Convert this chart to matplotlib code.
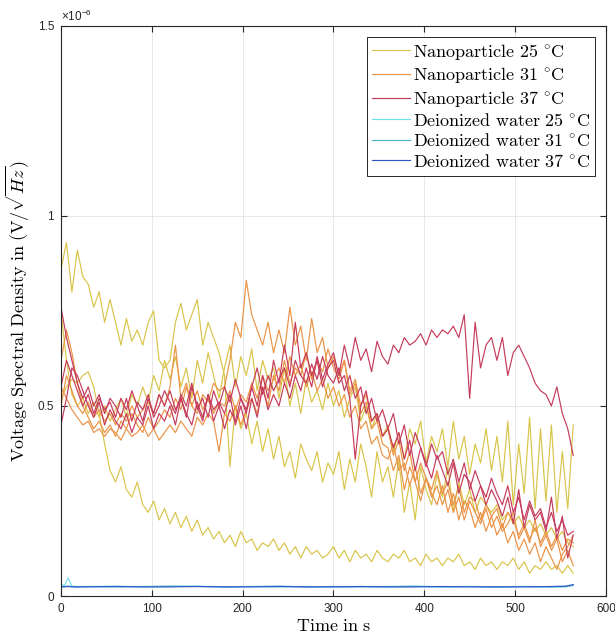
import numpy as np
import matplotlib.pyplot as plt

plt.rcParams['mathtext.fontset'] = 'cm'
plt.rcParams['font.family'] = 'Liberation Sans'

# sampling times in s, readings in units of 1e-8 V/sqrt(Hz)
time_s = np.arange(0, 565, 6)

np25_a = [86, 93, 80, 91, 84, 82, 76, 80, 72, 78,
          72, 66, 73, 67, 70, 66, 72, 75, 62, 60,
          62, 72, 77, 70, 74, 78, 66, 72, 68, 64,
          58, 34, 50, 44, 48, 40, 46, 38, 44, 36,
          42, 34, 38, 31, 40, 36, 33, 38, 30, 35,
          32, 38, 28, 36, 30, 40, 34, 26, 38, 30,
          34, 26, 36, 22, 30, 20, 34, 28, 24, 32,
          26, 34, 22, 30, 24, 28, 22, 26, 24, 22,
          24, 20, 22, 19, 21, 18, 20, 17, 19, 16,
          18, 15, 17, 14, 13]
np25_b = [52, 55, 57, 56, 58, 59, 55, 48, 40, 33,
          30, 34, 28, 26, 30, 24, 22, 25, 20, 23,
          19, 22, 18, 21, 17, 20, 16, 18, 15, 17,
          14, 16, 13, 17, 14, 15, 12, 14, 13, 15,
          12, 14, 11, 13, 10, 13, 11, 12, 10, 11,
          13, 10, 12, 9, 12, 10, 11, 9, 12, 10,
          9, 11, 10, 12, 9, 10, 8, 11, 9, 10,
          8, 10, 9, 11, 8, 9, 7, 10, 8, 9,
          7, 9, 8, 10, 7, 9, 6, 8, 7, 9,
          7, 8, 6, 8, 6]
np25_c = [75, 62, 53, 50, 52, 48, 51, 47, 50, 46,
          49, 52, 47, 53, 50, 55, 51, 58, 54, 62,
          57, 63, 55, 60, 52, 62, 56, 64, 58, 52,
          60, 66, 55, 63, 58, 65, 54, 62, 57, 60,
          52, 60, 50, 56, 48, 57, 51, 54, 49, 56,
          50, 54, 47, 52, 55, 46, 50, 44, 48, 42,
          45, 38, 43, 36, 44, 40, 46, 35, 42, 38,
          44, 34, 46, 36, 42, 32, 40, 35, 44, 33,
          42, 30, 46, 24, 40, 27, 47, 23, 44, 25,
          45, 22, 38, 23, 45]

np31_a = [62, 70, 64, 56, 50, 47, 44, 46, 43, 45,
          42, 46, 44, 48, 45, 43, 47, 44, 46, 49,
          47, 52, 49, 55, 50, 48, 53, 51, 56, 54,
          55, 62, 72, 68, 83, 74, 70, 66, 72, 64,
          70, 64, 76, 66, 71, 62, 73, 64, 68, 60,
          63, 58, 62, 54, 57, 50, 53, 46, 48, 42,
          44, 37, 41, 33, 38, 30, 35, 31, 28, 33,
          27, 30, 24, 29, 22, 26, 25, 20, 24, 21,
          23, 18, 22, 20, 16, 19, 15, 18, 14, 17,
          13, 16, 12, 15, 14]
np31_b = [55, 52, 49, 47, 45, 46, 43, 44, 42, 44,
          43, 41, 44, 42, 43, 45, 42, 44, 41, 43,
          45, 43, 46, 44, 42, 47, 45, 48, 46, 38,
          48, 46, 50, 45, 49, 52, 48, 55, 50, 58,
          54, 62, 56, 60, 58, 64, 57, 62, 59, 65,
          60, 57, 62, 53, 56, 48, 51, 44, 46, 40,
          39, 33, 37, 28, 34, 30, 25, 31, 27, 24,
          29, 22, 27, 20, 25, 23, 18, 22, 17, 21,
          16, 19, 14, 17, 12, 15, 11, 14, 9, 13,
          10, 7, 11, 13, 16]
np31_c = [50, 58, 54, 50, 48, 51, 47, 49, 46, 48,
          45, 48, 46, 50, 47, 49, 51, 48, 53, 50,
          55, 66, 52, 56, 50, 54, 49, 52, 48, 51,
          50, 54, 49, 53, 51, 56, 52, 58, 54, 57,
          60, 56, 63, 58, 61, 55, 59, 54, 57, 52,
          55, 50, 53, 47, 50, 44, 46, 40, 42, 37,
          36, 40, 33, 35, 29, 34, 27, 31, 26, 29,
          24, 28, 22, 26, 20, 25, 22, 19, 23, 18,
          21, 17, 19, 22, 15, 18, 14, 20, 13, 16,
          12, 15, 9, 12, 8]

np37_a = [55, 62, 58, 54, 50, 53, 48, 52, 49, 51,
          47, 52, 49, 54, 50, 46, 52, 48, 53, 50,
          54, 49, 52, 47, 55, 50, 46, 53, 49, 51,
          48, 53, 45, 50, 44, 52, 47, 55, 49, 53,
          50, 56, 52, 58, 54, 60, 55, 63, 57, 61,
          64, 58, 66, 60, 68, 62, 65, 59, 67, 63,
          61, 66, 64, 68, 66, 67, 69, 66, 70, 68,
          70, 69, 71, 68, 74, 52, 72, 60, 66, 68,
          62, 68, 58, 64, 66, 63, 60, 56, 54, 53,
          50, 55, 48, 44, 37]
np37_b = [76, 68, 62, 56, 52, 55, 50, 53, 48, 52,
          50, 47, 52, 46, 51, 49, 53, 47, 50, 54,
          51, 48, 53, 50, 56, 49, 52, 47, 54, 50,
          55, 51, 57, 52, 49, 55, 60, 53, 58, 54,
          57, 60, 55, 62, 58, 56, 61, 57, 63, 58,
          56, 60, 54, 58, 52, 55, 48, 52, 46, 49,
          44, 48, 40, 45, 37, 43, 39, 34, 40, 36,
          38, 32, 36, 30, 35, 28, 33, 29, 26, 31,
          27, 24, 29, 22, 26, 20, 25, 21, 23, 18,
          22, 17, 20, 16, 17]
np37_c = [45, 52, 60, 58, 54, 50, 47, 51, 45, 49,
          46, 44, 48, 43, 47, 45, 50, 44, 48, 46,
          50, 45, 52, 48, 45, 51, 47, 53, 46, 50,
          44, 49, 46, 52, 48, 55, 50, 58, 52, 62,
          56, 66, 58, 72, 60, 64, 58, 62, 55, 60,
          62, 56, 58, 52, 36, 50, 54, 46, 48, 42,
          44, 39, 43, 36, 41, 33, 39, 35, 31, 37,
          33, 29, 35, 27, 32, 30, 25, 29, 24, 28,
          25, 21, 26, 19, 28, 18, 24, 20, 22, 17,
          26, 15, 21, 10, 16]

water_t = [0, 4, 8, 12, 16, 30, 60, 90, 120, 150, 180, 210, 240,
           270, 300, 330, 360, 390, 420, 450, 480, 510, 540, 556, 564]
water25 = [3.0, 2.8, 4.8, 2.6, 2.5, 2.5, 2.6, 2.4, 2.5, 2.6, 2.4, 2.5, 2.4,
           2.5, 2.4, 2.5, 2.4, 2.5, 2.4, 2.5, 2.4, 2.5, 2.4, 2.4, 2.9]
water31 = [2.6, 2.5, 2.6, 2.5, 2.4, 2.5, 2.4, 2.5, 2.6, 2.5, 2.4, 2.5, 2.6,
           2.4, 2.5, 2.4, 2.5, 2.6, 2.4, 2.5, 2.4, 2.5, 2.4, 2.5, 2.8]
water37 = [2.4, 2.4, 2.5, 2.4, 2.4, 2.4, 2.5, 2.4, 2.4, 2.5, 2.4, 2.4, 2.5,
           2.4, 2.4, 2.5, 2.4, 2.4, 2.5, 2.4, 2.4, 2.4, 2.5, 2.6, 3.0]

c_y = '#d8c448'
c_o = '#eb9244'
c_r = '#c53b5a'
c_c = '#70e0e6'
c_t = '#4db6cf'
c_b = '#2f55c6'

fig = plt.figure(figsize=(6.15, 6.35), dpi=100)
ax = fig.add_axes([0.0992, 0.0614, 0.886, 0.898])

lw = 0.85
sc = 0.01  # plot in units of 1e-6
ax.plot(time_s, np.array(np25_a) * sc, color=c_y, lw=lw, label=r'$\mathrm{Nanoparticle\ 25\ ^{\circ}C}$')
ax.plot(time_s, np.array(np25_b) * sc, color=c_y, lw=lw)
ax.plot(time_s, np.array(np25_c) * sc, color=c_y, lw=lw)
ax.plot(time_s, np.array(np31_a) * sc, color=c_o, lw=lw, label=r'$\mathrm{Nanoparticle\ 31\ ^{\circ}C}$')
ax.plot(time_s, np.array(np31_b) * sc, color=c_o, lw=lw)
ax.plot(time_s, np.array(np31_c) * sc, color=c_o, lw=lw)
ax.plot(time_s, np.array(np37_a) * sc, color=c_r, lw=lw, label=r'$\mathrm{Nanoparticle\ 37\ ^{\circ}C}$')
ax.plot(time_s, np.array(np37_b) * sc, color=c_r, lw=lw)
ax.plot(time_s, np.array(np37_c) * sc, color=c_r, lw=lw)
ax.plot(water_t, np.array(water25) * sc, color=c_c, lw=lw, label=r'$\mathrm{Deionized\ water\ 25\ ^{\circ}C}$')
ax.plot(water_t, np.array(water31) * sc, color=c_t, lw=lw, label=r'$\mathrm{Deionized\ water\ 31\ ^{\circ}C}$')
ax.plot(water_t, np.array(water37) * sc, color=c_b, lw=lw, label=r'$\mathrm{Deionized\ water\ 37\ ^{\circ}C}$')

ax.set_xlim(0, 600)
ax.set_ylim(0, 1.5)
ax.set_xticks([0, 100, 200, 300, 400, 500, 600])
ax.set_yticks([0, 0.5, 1, 1.5])
ax.set_yticklabels(['0', '0.5', '1', '1.5'])
ax.tick_params(direction='in', length=4, width=0.8, top=True, right=True,
               labelsize=8.5, colors='#262626', pad=5)
ax.grid(True, color='#e3e3e3', lw=0.6)
ax.set_axisbelow(True)
for s in ax.spines.values():
    s.set_color('#262626')
    s.set_linewidth(0.8)

ax.text(0.0, 1.004, r'$\mathdefault{\times10^{-6}}$', transform=ax.transAxes,
        fontsize=8.5, color='#262626', ha='left', va='bottom')

ax.set_xlabel(r'$\mathrm{Time\ in\ s}$', fontsize=13, labelpad=2)
ax.set_ylabel(r'$\mathrm{Voltage\ Spectral\ Density\ in\ }(\mathrm{V}/\sqrt{Hz})$',
              fontsize=13, labelpad=4)

leg = ax.legend(loc='upper right', fontsize=13, frameon=True, fancybox=False,
                edgecolor='#262626', framealpha=1, borderpad=0.28,
                labelspacing=0.2, handlelength=2.1, handletextpad=0.15,
                borderaxespad=0.6)
leg.get_frame().set_linewidth(0.7)

fig.savefig('out.png', dpi=100)
